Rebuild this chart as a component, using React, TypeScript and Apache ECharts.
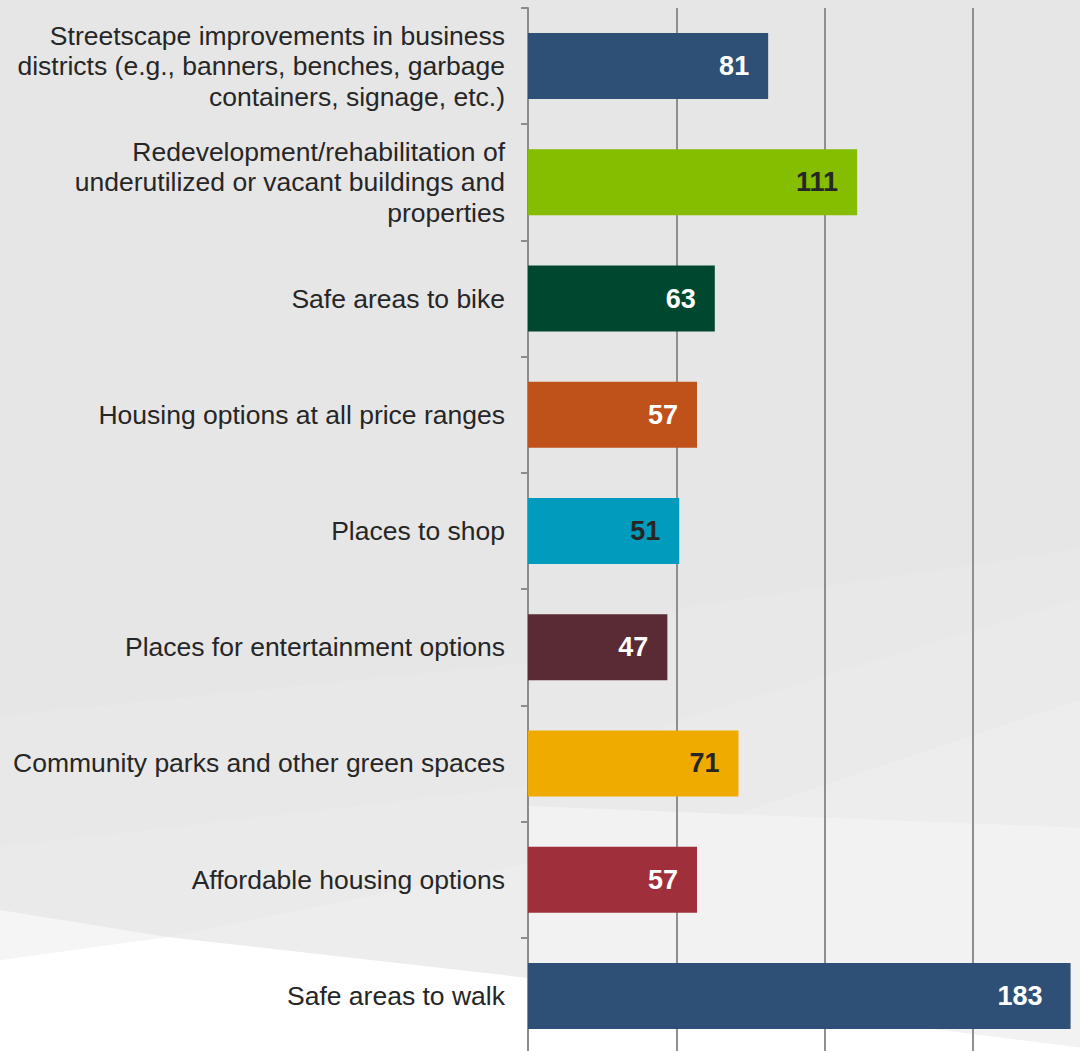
import React, { useEffect, useRef } from "react";
import * as echarts from "echarts";

const categories = [
  "Streetscape improvements in business\ndistricts (e.g., banners, benches, garbage\ncontainers, signage, etc.)",
  "Redevelopment/rehabilitation of\nunderutilized or vacant buildings and\nproperties",
  "Safe areas to bike",
  "Housing options at all price ranges",
  "Places to shop",
  "Places for entertainment options",
  "Community parks and other green spaces",
  "Affordable housing options",
  "Safe areas to walk",
];
const values = [81, 111, 63, 57, 51, 47, 71, 57, 183];
const barColors = [
  "#2e5076",
  "#85bd00",
  "#00472f",
  "#bf511a",
  "#009bbd",
  "#5a2b34",
  "#f0ab00",
  "#9e2f3b",
  "#2e5076",
];
const labelColors = [
  "#ffffff",
  "#262626",
  "#ffffff",
  "#ffffff",
  "#262626",
  "#ffffff",
  "#262626",
  "#ffffff",
  "#ffffff",
];
const xMin = 0;
const xMax = 200;
const xInterval = 50;

const FONT = "'Liberation Sans', Arial, sans-serif";

function bgPoly(points: number[][], color: string) {
  return {
    type: "polygon",
    silent: true,
    z: -100,
    shape: { points },
    style: { fill: color },
  };
}

export default function App() {
  const ref = useRef<HTMLDivElement>(null);

  useEffect(() => {
    if (!ref.current) return;
    const chart = echarts.init(ref.current, null, { renderer: "svg" });
    const option = {
      animation: false,
      backgroundColor: "#e6e6e6",
      graphic: {
        elements: [
          bgPoly([[0, 716], [527, 663], [680, 608], [1140, 540], [1140, 1070], [0, 1070]], "#e8e8e8"),
          bgPoly([[0, 847], [520, 787], [680, 720], [1140, 580], [1140, 1070], [0, 1070]], "#eaeaeb"),
          bgPoly([[0, 960], [167, 937], [680, 833], [1140, 680], [1140, 1070], [0, 1070]], "#ededee"),
          bgPoly([[527, 806], [1140, 830], [1140, 1070], [527, 1070]], "#f2f2f2"),
          bgPoly([[0, 910], [167, 937], [0, 960]], "#f5f5f5"),
          bgPoly([[0, 960], [167, 937], [520, 977], [1140, 1055], [1140, 1070], [0, 1070]], "#ffffff"),
        ],
      },
      grid: {
        left: 528,
        top: 8,
        width: 593,
        height: 1046,
        containLabel: false,
      },
      xAxis: {
        type: "value",
        min: xMin,
        max: xMax,
        interval: xInterval,
        axisLine: { show: false },
        axisTick: { show: false },
        axisLabel: { show: false },
        splitLine: { show: true, lineStyle: { color: "#8f8f8f", width: 2 } },
      },
      yAxis: {
        type: "category",
        inverse: true,
        data: categories,
        axisLine: { show: true, lineStyle: { color: "#8c8c8c", width: 2 } },
        axisTick: { show: true, length: 7, lineStyle: { color: "#8c8c8c", width: 2 } },
        axisLabel: {
          fontSize: 26.5,
          lineHeight: 30.5,
          color: "#262626",
          fontFamily: FONT,
          margin: 23,
          align: "right",
        },
      },
      series: [
        {
          type: "bar",
          barWidth: 66,
          data: values.map((v, i) => ({
            value: v,
            itemStyle: { color: barColors[i] },
            label: { color: labelColors[i], distance: v > 150 ? 28 : 19 },
          })),
          label: {
            show: true,
            position: "insideRight",
            distance: 19,
            fontSize: 27,
            fontWeight: "bold",
            fontFamily: FONT,
          },
        },
      ],
    };
    chart.setOption(option as any);
    return () => chart.dispose();
  }, []);

  return (
    <div
      style={{
        position: "fixed",
        left: 0,
        top: 0,
        width: 1080,
        height: 1051,
        overflow: "hidden",
      }}
    >
      <div ref={ref} style={{ width: 1140, height: 1070 }} />
    </div>
  );
}
